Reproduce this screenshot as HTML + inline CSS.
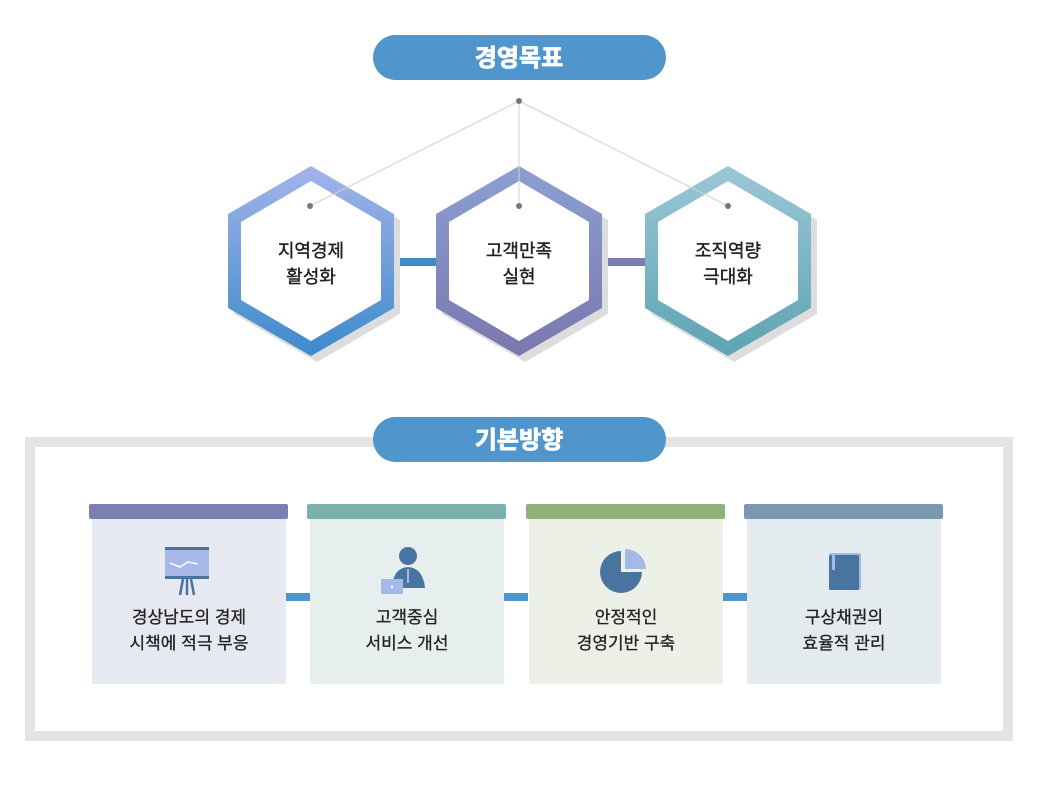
<!DOCTYPE html>
<html><head><meta charset="utf-8"><style>
body{margin:0;background:#fff;width:1039px;height:800px;overflow:hidden}
svg text{font-family:"Liberation Sans","Noto Sans CJK KR",sans-serif}
</style></head><body>
<svg width="1039" height="800" viewBox="0 0 1039 800">
<defs>
<linearGradient id="g1" x1="0" y1="0" x2="0" y2="1"><stop offset="0" stop-color="#a3b4ea"/><stop offset="1" stop-color="#3e8acb"/></linearGradient>
<linearGradient id="g2" x1="0" y1="0" x2="0" y2="1"><stop offset="0" stop-color="#8c9fd3"/><stop offset="1" stop-color="#7a78ad"/></linearGradient>
<linearGradient id="g3" x1="0" y1="0" x2="0" y2="1"><stop offset="0" stop-color="#9cc7d6"/><stop offset="1" stop-color="#5ea4b2"/></linearGradient>
</defs>
<rect x="373" y="35" width="293" height="45" rx="22.5" fill="#5096cc"/>
<text x="519" y="66" font-size="24" font-weight="bold" fill="#fff" text-anchor="middle" stroke="#fff" stroke-width="0.8">경영목표</text>
<rect x="392" y="258" width="50" height="8" fill="#3f8ac6"/>
<rect x="600" y="258" width="50" height="8" fill="#7b7db3"/>
<g fill="#ddd">
<polygon points="317,172 400,220 400,314 317,362 234,314 234,220"/>
<polygon points="525,172 608,220 608,314 525,362 442,314 442,220"/>
<polygon points="734,172 817,220 817,314 734,362 651,314 651,220"/>
</g>
<polygon points="311,166 394,214 394,308 311,356 228,308 228,214" fill="url(#g1)"/>
<polygon points="311,181 381,222 381,300 311,341 241,300 241,222" fill="#fff"/>
<polygon points="519,166 602,214 602,308 519,356 436,308 436,214" fill="url(#g2)"/>
<polygon points="519,181 589,222 589,300 519,341 449,300 449,222" fill="#fff"/>
<polygon points="728,166 811,214 811,308 728,356 645,308 645,214" fill="url(#g3)"/>
<polygon points="728,181 798,222 798,300 728,341 658,300 658,222" fill="#fff"/>
<g stroke="#d0d0d0" stroke-width="1"><line x1="519" y1="101" x2="310" y2="206"/><line x1="519" y1="101" x2="519" y2="206"/><line x1="519" y1="101" x2="728" y2="206"/></g>
<g fill="#777"><circle cx="519" cy="101" r="3"/><circle cx="310" cy="206" r="3"/><circle cx="519" cy="206" r="3"/><circle cx="728" cy="206" r="3"/></g>
<g font-size="18" fill="#222" text-anchor="middle" stroke="#222" stroke-width="0.4">
<text x="311" y="257">지역경제</text><text x="311" y="283">활성화</text>
<text x="519" y="257">고객만족</text><text x="519" y="283">실현</text>
<text x="728" y="257">조직역량</text><text x="728" y="283">극대화</text>
</g>
<rect x="30" y="442" width="978" height="294" fill="none" stroke="#e4e4e4" stroke-width="10"/>
<rect x="373" y="417" width="293" height="45" rx="22.5" fill="#5096cc"/>
<text x="519" y="448" font-size="24" font-weight="bold" fill="#fff" text-anchor="middle" stroke="#fff" stroke-width="0.8">기본방향</text>
<g fill="#5096cc"><rect x="286" y="593" width="24" height="8"/><rect x="504" y="593" width="24" height="8"/><rect x="723" y="593" width="24" height="8"/></g>
<rect x="92" y="515" width="194" height="169" rx="2" fill="#e6e9f1"/><rect x="89" y="504" width="199" height="15" rx="2" fill="#7b80b2"/>
<rect x="310" y="515" width="194" height="169" rx="2" fill="#e6efee"/><rect x="307" y="504" width="199" height="15" rx="2" fill="#7bb0ad"/>
<rect x="529" y="515" width="194" height="169" rx="2" fill="#edf0e7"/><rect x="526" y="504" width="199" height="15" rx="2" fill="#94b07a"/>
<rect x="747" y="515" width="194" height="169" rx="2" fill="#e4ebef"/><rect x="744" y="504" width="199" height="15" rx="2" fill="#7b98b2"/>
<rect x="165" y="547" width="44" height="32" fill="#4a74a0"/><rect x="165" y="550" width="44" height="26" fill="#a5b8e8"/>
<polyline points="170,563 180,567 188,562 198,564" fill="none" stroke="#fff" stroke-width="1.5"/>
<g stroke="#4a74a0" stroke-width="2.5"><line x1="183" y1="579" x2="180" y2="595"/><line x1="187" y1="579" x2="187" y2="595"/><line x1="191" y1="579" x2="194" y2="595"/></g>
<circle cx="408" cy="556" r="9" fill="#4a74a0"/><path d="M392,588 Q393,568 408,567 Q423,568 425,588 Z" fill="#4a74a0"/>
<line x1="408" y1="569" x2="408" y2="583" stroke="#a5b8e8" stroke-width="2"/>
<rect x="381" y="579" width="22" height="15" fill="#a5b8e8"/><circle cx="392" cy="587" r="1.2" fill="#fff"/>
<path d="M621,551 A21,21 0 1 0 642,572 L621,572 Z" fill="#4a74a0"/><path d="M625,549 A21,21 0 0 1 646,569 L625,569 Z" fill="#a5b8e8"/>
<rect x="829" y="553" width="32" height="37" rx="2" fill="#a5b8e8"/><rect x="829" y="555" width="30" height="35" rx="2" fill="#4a74a0"/><rect x="832" y="553" width="3" height="17" fill="#a5b8e8"/>
<g font-size="17" fill="#222" text-anchor="middle" stroke="#222" stroke-width="0.3">
<text x="189" y="623">경상남도의 경제</text><text x="189" y="649">시책에 적극 부응</text>
<text x="407" y="623">고객중심</text><text x="407" y="649">서비스 개선</text>
<text x="626" y="623">안정적인</text><text x="626" y="649">경영기반 구축</text>
<text x="844" y="623">구상채권의</text><text x="844" y="649">효율적 관리</text>
</g>
</svg>
</body></html>
